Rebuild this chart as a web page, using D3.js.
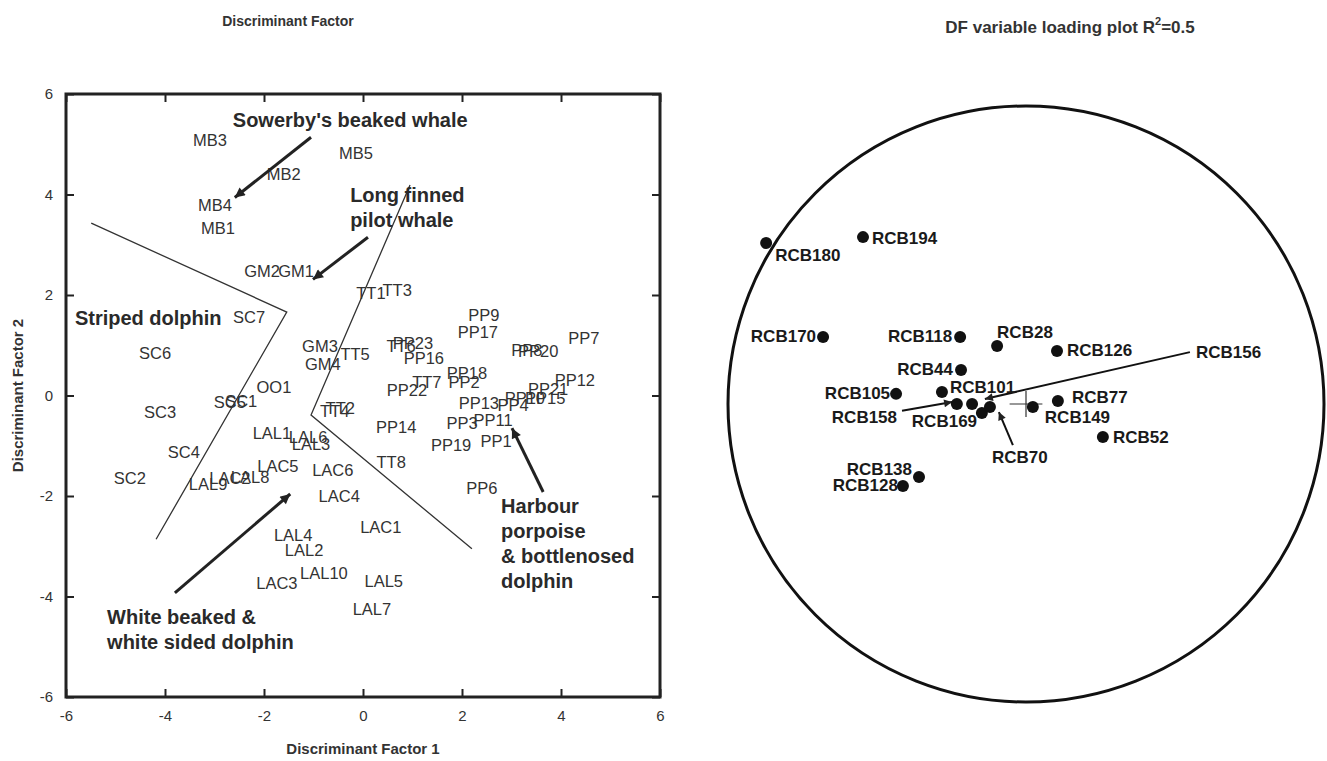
<!DOCTYPE html>
<html lang="en">
<head>
<meta charset="utf-8">
<title>Discriminant Factor</title>
<script src="https://cdn.jsdelivr.net/npm/d3@7"></script>
<style>
  body { margin: 0; background: #fff; }
  text { font-family: "Liberation Sans", Arial, Helvetica, sans-serif; }
</style>
</head>
<body>
<svg id="chart" width="1327" height="761"></svg>
<script>
// ---------- left panel: discriminant scores ----------
const sampleNames = ["MB3","MB5","MB2","MB4","MB1","GM2","GM1","TT1","TT3","SC7","SC6",
  "GM3","GM4","TT5","TT6","PP23","PP16","PP9","PP17","PP7","PP8","PP20","PP12","PP18",
  "PP2","TT7","PP22","PP13","PP4","PP21","PP10","PP15","PP11","PP3","PP14","PP19","PP1",
  "TT8","PP6","TT2","TT4","OO1","SC5","SC1","SC3","SC4","SC2","LAL1","LAL6","LAL3",
  "LAC5","LAC6","LAC4","LAL9","LAC2","LAL8","LAL4","LAL2","LAC3","LAL10","LAC1","LAL5","LAL7"];
const df1 = [-3.09,-0.14,-1.60,-2.99,-2.93,-2.04,-1.35,0.16,0.69,-2.30,-4.20,
  -0.87,-0.81,-0.16,0.77,1.01,1.23,2.44,2.32,4.46,3.31,3.54,4.28,2.10,
  2.04,1.29,0.89,2.34,3.03,3.74,3.27,3.68,2.63,2.00,0.67,1.78,2.69,
  0.57,2.40,-0.46,-0.57,-1.80,-2.69,-2.46,-4.10,-3.62,-4.71,-1.84,-1.11,-1.05,
  -1.72,-0.61,-0.48,-3.13,-2.69,-2.28,-1.41,-1.19,-1.74,-0.79,0.36,0.42,0.18];
const df2 = [5.08,4.83,4.41,3.80,3.33,2.48,2.48,2.04,2.10,1.56,0.84,
  0.99,0.63,0.83,0.99,1.04,0.75,1.60,1.26,1.14,0.91,0.89,0.31,0.45,
  0.27,0.27,0.11,-0.15,-0.19,0.13,-0.05,-0.05,-0.49,-0.55,-0.63,-0.99,-0.91,
  -1.32,-1.84,-0.25,-0.31,0.17,-0.13,-0.11,-0.33,-1.12,-1.64,-0.75,-0.83,-0.97,
  -1.40,-1.48,-2.00,-1.76,-1.64,-1.62,-2.78,-3.08,-3.74,-3.54,-2.62,-3.70,-4.24];

const axisTicks = [-6,-4,-2,0,2,4,6];

// group boundaries drawn by the authors
const boundaryLines = [
  [[-5.49,3.43],[-1.54,1.66],[-4.18,-2.86]],
  [[0.95,4.19],[-1.05,-0.39],[2.20,-3.05]]
];

// group names (lines of text) and where they start
const groupLines = ["Sowerby's beaked whale","Long finned","pilot whale","Striped dolphin",
  "White beaked &","white sided dolphin","Harbour","porpoise","& bottlenosed","dolphin"];
const groupX = [-2.63,-0.26,-0.26,-5.82,-5.17,-5.17,2.79,2.79,2.79,2.79];
const groupY = [5.48,3.99,3.49,1.54,-4.41,-4.91,-2.20,-2.70,-3.19,-3.69];

// pointer arrows: tail -> head
const arrowTail = [[-1.05,5.14],[0.10,3.15],[-3.80,-3.93],[3.64,-1.92]];
const arrowHead = [[-2.59,3.94],[-1.01,2.31],[-1.47,-1.96],[3.01,-0.65]];

// ---------- right panel: variable loadings ----------
const variableNames = ["RCB180","RCB194","RCB170","RCB118","RCB28","RCB126","RCB44",
  "RCB105","RCB101","RCB158","RCB169","RCB156","RCB70","RCB149","RCB77","RCB52",
  "RCB138","RCB128"];
const loading1 = [-0.872,-0.547,-0.681,-0.221,-0.097,0.104,-0.218,
  -0.436,-0.282,-0.232,-0.181,-0.148,-0.121,0.023,0.107,0.258,
  -0.359,-0.413];
const loading2 = [0.540,0.560,0.225,0.225,0.195,0.178,0.114,
  0.034,0.040,0.000,0.000,-0.030,-0.010,-0.010,0.010,-0.111,
  -0.245,-0.275];

// variables labelled at the end of a pointer line
const pointerNames = ["RCB158","RCB156","RCB70"];
const pointerTail = [[-0.416,-0.023],[0.550,0.174],[-0.044,-0.138]];
const pointerHead = [[-0.248,0.007],[-0.138,0.017],[-0.091,-0.027]];

// label offsets (px) around the dot / pointer tail
const labelPlace = {
  RCB180: [9, 12, "start"], RCB194: [9, 1, "start"], RCB170: [-7, 0, "end"],
  RCB118: [-8, 0, "end"], RCB28: [0, -13, "start"], RCB126: [10, 0, "start"],
  RCB44: [-8, -1, "end"], RCB105: [-6, 0, "end"], RCB101: [8, -5, "start"],
  RCB169: [5, 17, "end"], RCB149: [12, 11, "start"], RCB77: [14, -4, "start"],
  RCB52: [10, 0, "start"], RCB138: [-7, -8, "end"], RCB128: [-5, 0, "end"],
  RCB158: [-5, 7, "end"], RCB156: [6, 0, "start"], RCB70: [-21, 12, "start"]
};

const svg = d3.select("#chart");
const ink = "#222";

svg.append("defs").selectAll("marker")
  .data([{id: "headBig", w: 13, h: 10}, {id: "headSmall", w: 11, h: 8}])
  .join("marker")
    .attr("id", d => d.id)
    .attr("markerUnits", "userSpaceOnUse")
    .attr("viewBox", "0 0 10 10")
    .attr("refX", 10).attr("refY", 5)
    .attr("markerWidth", d => d.w).attr("markerHeight", d => d.h)
    .attr("orient", "auto")
  .append("path")
    .attr("d", "M0,0L10,5L0,10z")
    .attr("fill", ink);

// ===== left panel =====
const x = d3.scaleLinear().domain([-6, 6]).range([66, 660]);
const y = d3.scaleLinear().domain([-6, 6]).range([697, 94]);

const left = svg.append("g");

function styleAxis(g) {
  g.select(".domain").remove();
  g.selectAll(".tick line").attr("stroke", ink).attr("stroke-width", 2);
  g.selectAll(".tick text").attr("fill", "#333").style("font-size", "15px");
}
const plain = d => String(d);   // hyphen minus, as in the figure

left.append("g")
  .attr("transform", `translate(0,${y(-6)})`)
  .call(d3.axisBottom(x).tickValues(axisTicks).tickSize(-8).tickPadding(13).tickFormat(plain))
  .call(styleAxis);
left.append("g")
  .attr("transform", `translate(${x(-6)},0)`)
  .call(d3.axisLeft(y).tickValues(axisTicks).tickSize(-8).tickPadding(13).tickFormat(plain))
  .call(styleAxis);
left.append("g")
  .attr("transform", `translate(0,${y(6)})`)
  .call(d3.axisTop(x).tickValues(axisTicks).tickSize(-8).tickFormat(""))
  .call(styleAxis);
left.append("g")
  .attr("transform", `translate(${x(6)},0)`)
  .call(d3.axisRight(y).tickValues(axisTicks).tickSize(-8).tickFormat(""))
  .call(styleAxis);

left.append("rect")
  .attr("x", x(-6)).attr("y", y(6))
  .attr("width", x(6) - x(-6)).attr("height", y(-6) - y(6))
  .attr("fill", "none").attr("stroke", ink).attr("stroke-width", 3);

const line = d3.line().x(d => x(d[0])).y(d => y(d[1]));
left.selectAll("path.boundary")
  .data(boundaryLines)
  .join("path")
    .attr("class", "boundary")
    .attr("d", line)
    .attr("fill", "none")
    .attr("stroke", "#333")
    .attr("stroke-width", 1.3);

left.selectAll("text.sample")
  .data(sampleNames)
  .join("text")
    .attr("class", "sample")
    .attr("x", (d, i) => x(df1[i]))
    .attr("y", (d, i) => y(df2[i]))
    .attr("text-anchor", "middle")
    .attr("dominant-baseline", "central")
    .attr("fill", "#333")
    .style("font-size", "16.5px")
    .text(d => d);

left.selectAll("line.arrow")
  .data(arrowTail)
  .join("line")
    .attr("class", "arrow")
    .attr("x1", d => x(d[0])).attr("y1", d => y(d[1]))
    .attr("x2", (d, i) => x(arrowHead[i][0])).attr("y2", (d, i) => y(arrowHead[i][1]))
    .attr("stroke", ink)
    .attr("stroke-width", 3)
    .attr("marker-end", "url(#headBig)");

left.selectAll("text.group")
  .data(groupLines)
  .join("text")
    .attr("class", "group")
    .attr("x", (d, i) => x(groupX[i]))
    .attr("y", (d, i) => y(groupY[i]))
    .attr("dominant-baseline", "central")
    .attr("fill", "#2a2a2a")
    .style("font-size", "20px")
    .style("font-weight", "bold")
    .text(d => d);

svg.append("text")
  .attr("x", 288).attr("y", 21)
  .attr("text-anchor", "middle").attr("dominant-baseline", "central")
  .attr("fill", "#333").style("font-size", "14px").style("font-weight", "bold")
  .text("Discriminant Factor");

svg.append("text")
  .attr("x", x(0)).attr("y", 748)
  .attr("text-anchor", "middle").attr("dominant-baseline", "central")
  .attr("fill", "#333").style("font-size", "15px").style("font-weight", "bold")
  .text("Discriminant Factor 1");

svg.append("text")
  .attr("transform", `translate(17,${y(0)}) rotate(-90)`)
  .attr("text-anchor", "middle").attr("dominant-baseline", "central")
  .attr("fill", "#333").style("font-size", "15px").style("font-weight", "bold")
  .text("Discriminant Factor 2");

// ===== right panel =====
const xr = d3.scaleLinear().domain([-1, 1]).range([728, 1324]);
const yr = d3.scaleLinear().domain([-1, 1]).range([702, 106]);
const right = svg.append("g");

right.append("circle")
  .attr("cx", xr(0)).attr("cy", yr(0))
  .attr("r", xr(1) - xr(0))
  .attr("fill", "none").attr("stroke", "#111").attr("stroke-width", 3);

// origin cross
const crossHalf = 0.055;
right.append("path")
  .attr("d", `M${xr(-crossHalf)},${yr(0)}H${xr(crossHalf)}M${xr(0)},${yr(crossHalf * 0.8)}V${yr(-crossHalf * 0.8)}`)
  .attr("stroke", "#333").attr("stroke-width", 1.2);

right.selectAll("line.pointer")
  .data(pointerNames)
  .join("line")
    .attr("class", "pointer")
    .attr("x1", (d, i) => xr(pointerTail[i][0])).attr("y1", (d, i) => yr(pointerTail[i][1]))
    .attr("x2", (d, i) => xr(pointerHead[i][0])).attr("y2", (d, i) => yr(pointerHead[i][1]))
    .attr("stroke", "#111").attr("stroke-width", 2)
    .attr("marker-end", "url(#headSmall)");

right.selectAll("circle.dot")
  .data(variableNames)
  .join("circle")
    .attr("class", "dot")
    .attr("cx", (d, i) => xr(loading1[i]))
    .attr("cy", (d, i) => yr(loading2[i]))
    .attr("r", 6)
    .attr("fill", "#111");

function labelAnchor(name, i) {
  const p = pointerNames.indexOf(name);
  return p >= 0 ? [xr(pointerTail[p][0]), yr(pointerTail[p][1])]
                : [xr(loading1[i]), yr(loading2[i])];
}

right.selectAll("text.var")
  .data(variableNames)
  .join("text")
    .attr("class", "var")
    .attr("x", (d, i) => labelAnchor(d, i)[0] + labelPlace[d][0])
    .attr("y", (d, i) => labelAnchor(d, i)[1] + labelPlace[d][1])
    .attr("text-anchor", d => labelPlace[d][2])
    .attr("dominant-baseline", "central")
    .attr("fill", "#1a1a1a")
    .style("font-size", "17px")
    .style("font-weight", "bold")
    .text(d => d);

const title2 = svg.append("text")
  .attr("x", 1070).attr("y", 27)
  .attr("text-anchor", "middle").attr("dominant-baseline", "central")
  .attr("fill", "#333").style("font-size", "17px").style("font-weight", "bold");
title2.append("tspan").text("DF variable loading plot R");
title2.append("tspan").attr("dy", -6).style("font-size", "11px").text("2");
title2.append("tspan").attr("dy", 6).text("=0.5");
</script>
</body>
</html>
